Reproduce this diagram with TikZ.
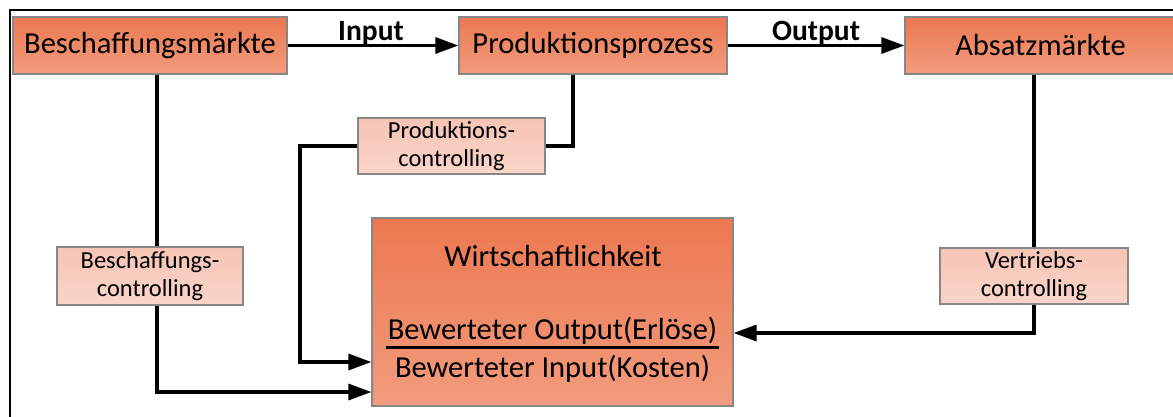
\documentclass[tikz,border=0pt]{standalone}
\usepackage{fontspec}
\setmainfont{Carlito}
\usetikzlibrary{arrows.meta}
\definecolor{mtop}{RGB}{236,120,80}
\definecolor{mbot}{RGB}{242,156,126}
\definecolor{ltop}{RGB}{246,196,180}
\definecolor{lbot}{RGB}{250,213,201}
\definecolor{bordergray}{RGB}{135,135,135}
\tikzset{
  mainbox/.style={draw=bordergray,line width=1.2pt,top color=mtop,bottom color=mbot,inner sep=0pt,font=\fontsize{30.5}{36}\selectfont},
  ctrlbox/.style={draw=bordergray,line width=1.2pt,top color=ltop,bottom color=lbot,inner sep=0pt,align=center,font=\fontsize{24.5}{28}\selectfont},
  conn/.style={line width=3.2pt},
  arr/.style={conn,-{Triangle[length=23pt,width=16pt]}},
  lbl/.style={font=\bfseries\fontsize{29.5}{34}\selectfont,inner sep=0pt,anchor=base},
  wtext/.style={font=\fontsize{30.5}{36}\selectfont,inner sep=0pt,anchor=base}
}
\begin{document}
\begin{tikzpicture}[x=1pt,y=-1pt]
\clip (0,0) rectangle (1173,416);
\fill[white] (0,0) rectangle (1173,416);
% frame
\draw[line width=2.5pt] (10,420) -- (10,10) -- (1180,10);
% main boxes
\node[mainbox,minimum width=274pt,minimum height=57pt] (bm) at (150,45.5) {Beschaffungsmärkte};
\node[mainbox,minimum width=268pt,minimum height=57pt] (pp) at (593,45.5) {Produktionsprozess};
\node[mainbox,minimum width=271pt,minimum height=57pt] (am) at (1040.5,45.5) {Absatzmärkte};
% controlling boxes
\node[ctrlbox,minimum width=187pt,minimum height=56pt] (pc) at (451.5,146) {Produktions-\\controlling};
\node[ctrlbox,minimum width=186pt,minimum height=58pt] (bc) at (150,276) {Beschaffungs-\\controlling};
\node[ctrlbox,minimum width=188pt,minimum height=56pt] (vc) at (1034,276) {Vertriebs-\\controlling};
% Wirtschaftlichkeit
\node[mainbox,minimum width=361pt,minimum height=188pt] (w) at (552.5,312) {};
\node[wtext] (wt) at (553,266) {Wirtschaftlichkeit};
\node[wtext] (wnum) at (552.5,339) {Bewerteter Output(Erlöse)};
\node[wtext] (wden) at (552.5,377) {Bewerteter Input(Kosten)};
\coordinate (fl) at (386,347);
\coordinate (fr) at (719,347);
\draw[line width=3pt] (fl) -- (fr);
% top flow
\draw[arr] (bm) -- (pp);
\draw[arr] (pp) -- (am);
\node[lbl] (inlbl) at (371,40) {Input};
\node[lbl] (outlbl) at (816,40) {Output};
% Produktionscontrolling
\coordinate (pcturn) at (300,146);
\draw[conn] ([xshift=-20pt]pp.south) |- (pc.east);
\draw[arr] (pc.west) -- (pcturn) |- ([yshift=-50pt]w.west);
% Beschaffungscontrolling
\draw[conn] ([xshift=7pt]bm.south) -- ([xshift=7pt]bc.north);
\draw[arr] ([xshift=7pt]bc.south) |- ([yshift=-80pt]w.west);
% Vertriebscontrolling
\draw[conn] ([xshift=-6.5pt]am.south) -- (vc.north);
\draw[arr] (vc.south) |- ([yshift=-21pt]w.east);
\end{tikzpicture}
\end{document}
